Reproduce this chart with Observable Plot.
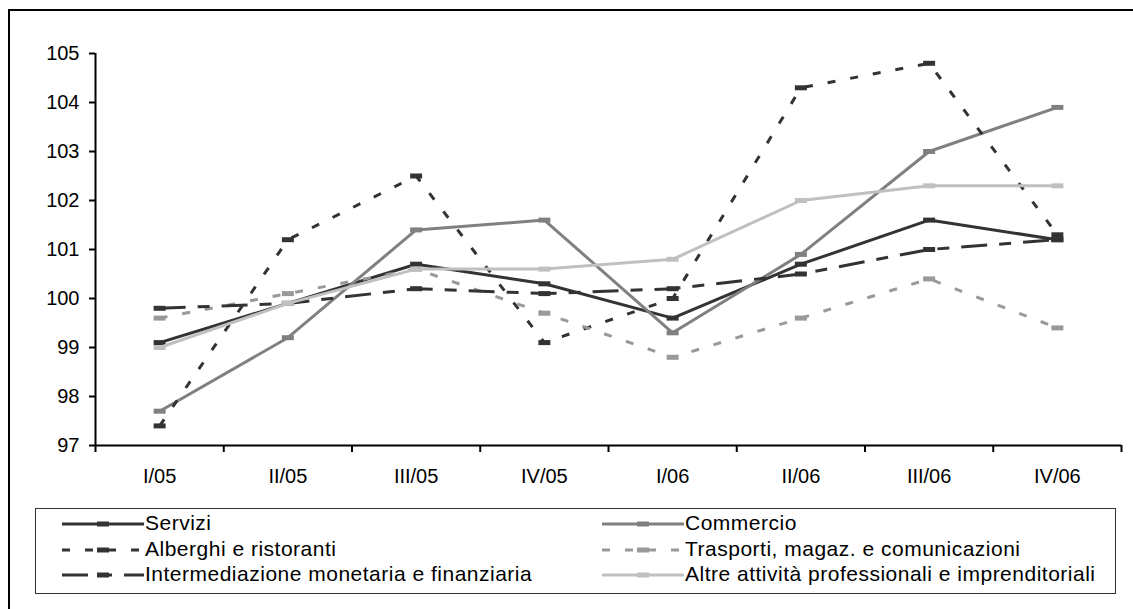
<!DOCTYPE html>
<html><head><meta charset="utf-8">
<script src="https://cdn.jsdelivr.net/npm/d3@7"></script>
<script src="https://cdn.jsdelivr.net/npm/@observablehq/plot@0.6"></script>
<style>
body{margin:0;background:#fff;font-family:"Liberation Sans",Arial,sans-serif;overflow:hidden;}
#frame{position:absolute;left:8px;top:9px;width:1200px;height:700px;border-left:2px solid #000;border-top:2px solid #000;}
#chart{position:absolute;left:0;top:0;}
#legend{position:absolute;left:35px;top:508px;width:1079px;height:84px;border:1px solid #333;background:#fff;}
.item{position:absolute;height:26px;font-size:21px;color:#000;white-space:nowrap;}
.item svg{position:absolute;left:0;top:7px;}
.item span{position:absolute;top:0px;line-height:24px;letter-spacing:0.5px;}
</style></head><body>
<div id="frame"></div><div id="chart"></div><div id="legend"></div>
<script>
const categories = ["I/05","II/05","III/05","IV/05","I/06","II/06","III/06","IV/06"];
const servizi = [99.1, 99.9, 100.7, 100.3, 99.6, 100.7, 101.6, 101.2];
const commercio = [97.7, 99.2, 101.4, 101.6, 99.3, 100.9, 103.0, 103.9];
const alberghi = [97.4, 101.2, 102.5, 99.1, 100.0, 104.3, 104.8, 101.3];
const trasporti = [99.6, 100.1, 100.6, 99.7, 98.8, 99.6, 100.4, 99.4];
const intermediazione = [99.8, 99.9, 100.2, 100.1, 100.2, 100.5, 101.0, 101.2];
const altre = [99.0, 99.9, 100.6, 100.6, 100.8, 102.0, 102.3, 102.3];
const seriesNames = ["Servizi","Commercio","Alberghi e ristoranti","Trasporti, magaz. e comunicazioni","Intermediazione monetaria e finanziaria","Altre attività professionali e imprenditoriali"];
const yTicks = [97, 98, 99, 100, 101, 102, 103, 104, 105];

const seriesValues = [servizi, commercio, alberghi, trasporti, intermediazione, altre];
const colors = ["#333333", "#808080", "#333333", "#999999", "#333333", "#c0c0c0"];
const dashes = [null, null, "8,15", "8,15", "26,12,12,12", null];

const series = seriesNames.map((name, k) => ({
  name, color: colors[k], dash: dashes[k],
  data: seriesValues[k].map((v, i) => ({cat: categories[i], x: i + 0.5, v}))
}));

const dashSymbol = {
  draw(ctx) {
    ctx.moveTo(-6, -2.5); ctx.lineTo(6, -2.5); ctx.lineTo(6, 2.5); ctx.lineTo(-6, 2.5); ctx.closePath();
  }
};

const marks = [
  Plot.axisY({ticks: yTicks, tickSize: 6, tickPadding: 10, strokeWidth: 2, stroke: "#000", fontSize: 20, label: null, tickFormat: d => String(d)}),
  Plot.axisX({ticks: d3.range(categories.length + 1), tickSize: 7, strokeWidth: 2, stroke: "#000", label: null, tickFormat: () => ""}),
  Plot.axisX({ticks: categories.map((c, i) => i + 0.5), tickSize: 0, tickPadding: 23, fontSize: 20, label: null, tickFormat: d => categories[Math.floor(d)]}),
  Plot.ruleX([0], {y1: yTicks[0], y2: yTicks[yTicks.length - 1], stroke: "#000", strokeWidth: 2}),
  Plot.ruleY([yTicks[0]], {x1: 0, x2: categories.length, stroke: "#000", strokeWidth: 2})
];
series.forEach(s => {
  marks.push(Plot.line(s.data, {x: "x", y: "v", stroke: s.color, strokeWidth: 3, strokeDasharray: s.dash || undefined, strokeLinejoin: "miter", strokeLinecap: "butt"}));
  marks.push(Plot.dot(s.data, {x: "x", y: "v", symbol: dashSymbol, fill: s.color, stroke: "none", r: 3}));
});

const plot = Plot.plot({
  width: 1133, height: 500,
  marginLeft: 95, marginRight: 12, marginTop: 53, marginBottom: 55,
  x: {type: "linear", domain: [0, categories.length], axis: null, label: null},
  y: {domain: [yTicks[0], yTicks[yTicks.length - 1]], axis: null, label: null},
  style: {fontFamily: "'Liberation Sans', Arial, sans-serif", fontSize: "20px", color: "#000", background: "transparent", overflow: "visible"},
  marks
});
document.getElementById("chart").appendChild(plot);

// Legend
const legend = d3.select("#legend");
const colX = [26, 566];
const rowY = [2, 28, 53];
series.forEach((s, k) => {
  const col = k % 2, row = Math.floor(k / 2);
  const item = legend.append("div").attr("class", "item")
    .style("left", colX[col] + "px").style("top", rowY[row] + "px");
  const svg = item.append("svg").attr("width", 82).attr("height", 12);
  svg.append("line").attr("x1", 0).attr("x2", 82).attr("y1", 6).attr("y2", 6)
    .attr("stroke", s.color).attr("stroke-width", 3)
    .attr("stroke-dasharray", s.dash);
  svg.append("rect").attr("x", 35).attr("y", 3.5).attr("width", 12).attr("height", 5).attr("fill", s.color);
  item.append("span").style("left", "83px").text(s.name);
});
</script>
</body></html>
